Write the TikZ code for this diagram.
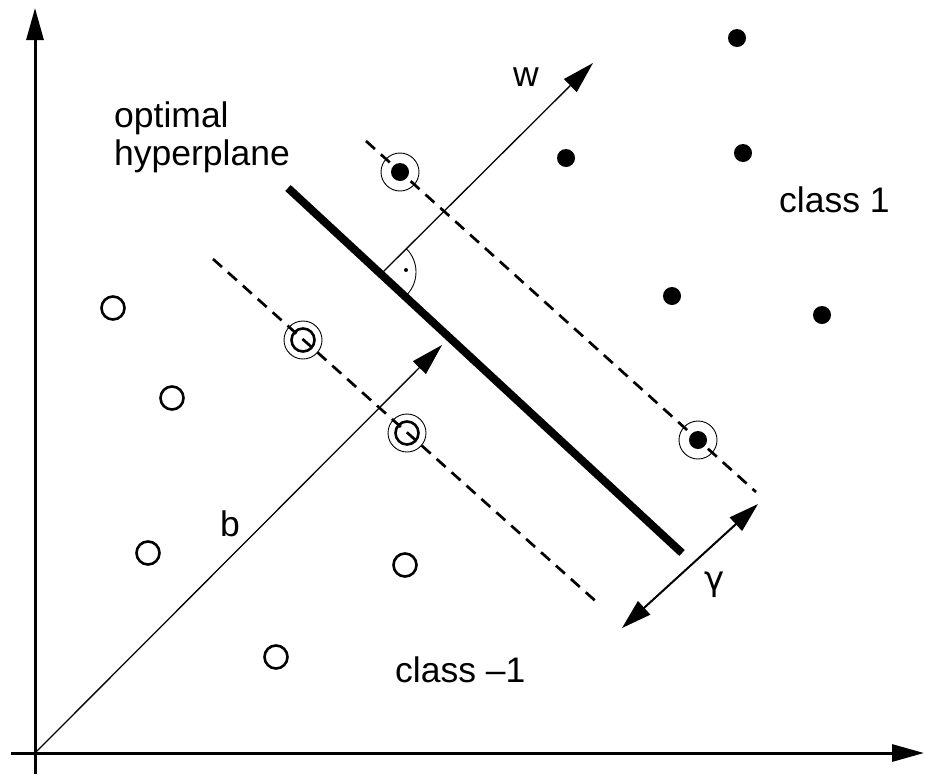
\documentclass[tikz,border=0pt]{standalone}
\usepackage{fontspec}
\setmainfont{Liberation Sans}
\newfontfamily\grfont{DejaVu Sans}
\usetikzlibrary{arrows.meta,calc}
\begin{document}
\begin{tikzpicture}[x=1pt,y=-1pt,
  axis/.style={line width=3pt,-{Triangle[length=32pt,width=17pt]}},
  thinarrow/.style={line width=1.3pt,-{Triangle[length=32pt,width=18pt]}},
  gammaarrow/.style={line width=2pt,{Triangle[length=30pt,width=18pt]}-{Triangle[length=30pt,width=18pt]}},
  hyper/.style={line width=8pt},
  margin/.style={line width=2.7pt,dash pattern=on 12pt off 8pt},
  filled/.style={circle,fill=black,inner sep=0pt,minimum size=18pt},
  openpt/.style={circle,draw=black,line width=2.6pt,inner sep=0pt,minimum size=23pt},
  ring/.style={circle,draw=black,line width=0.9pt,inner sep=0pt,minimum size=38pt},
  lbl/.style={inner sep=0pt,anchor=base west,font=\fontsize{35.5}{38}\selectfont}
]
\useasboundingbox (0,0) rectangle (925,774);
% axes
\coordinate (ybot) at (35,774);
\coordinate (ytop) at (35,8);
\coordinate (xleft) at (11,753);
\coordinate (xright) at (924,753);
\coordinate (O) at (35,753);
\draw[axis] (ybot) -- (ytop);
\draw[axis] (xleft) -- (xright);
% margins and hyperplane
\coordinate (u1) at (366,141);
\coordinate (u2) at (756,492);
\coordinate (l1) at (213,259);
\coordinate (l2) at (600,605);
\coordinate (h1) at (288,188);
\coordinate (h2) at (682,553);
\draw[margin] (u1) -- (u2);
\draw[margin] (l1) -- (l2);
\draw[hyper] (h1) -- (h2);
% w arrow and right angle
\coordinate (wbase) at (383,272);
\coordinate (wtip) at (593,63);
\draw[thinarrow] (wbase) -- (wtip);
\draw[line width=0.9pt] ($(wbase)+(-45:33)$) arc[start angle=-45,end angle=43,radius=33];
\node[circle,fill=black,inner sep=0pt,minimum size=4pt] (rdot) at (406,270) {};
% b arrow
\coordinate (btip) at (442,345);
\draw[thinarrow] (O) -- (btip);
% gamma arrow
\coordinate (g1) at (622,628);
\coordinate (g2) at (758,504);
\draw[gammaarrow] (g1) -- (g2);
% class 1 points
\node[filled] (f1) at (737,38) {};
\node[filled] (f2) at (566,158) {};
\node[filled] (f3) at (743,153) {};
\node[filled] (f4) at (672,296) {};
\node[filled] (f5) at (822,315) {};
\node[filled] (s1) at (400,172) {};
\node[ring] (s1r) at (400,172) {};
\node[filled] (s2) at (698,440) {};
\node[ring] (s2r) at (698,440) {};
% class -1 points
\node[openpt] (o1) at (113,308) {};
\node[openpt] (o2) at (172,398) {};
\node[openpt] (o3) at (148,553) {};
\node[openpt] (o4) at (405,565) {};
\node[openpt] (o5) at (276,657) {};
\node[openpt] (s3) at (303,340) {};
\node[ring] (s3r) at (303,340) {};
\node[openpt] (s4) at (407,433) {};
\node[ring] (s4r) at (407,433) {};
% labels
\node[lbl] (t1) at (114,127) {optimal};
\node[lbl] (t2) at (114,165) {hyperplane};
\node[lbl] (t3) at (779,212) {class 1};
\node[lbl] (t4) at (395,682) {class \textendash 1};
\node[lbl] (tw) at (513,86) {w};
\node[lbl] (tb) at (220,536) {b};
\node[lbl,font=\fontsize{34}{38}\grfont] (tg) at (704,590) {γ};
\end{tikzpicture}
\end{document}
